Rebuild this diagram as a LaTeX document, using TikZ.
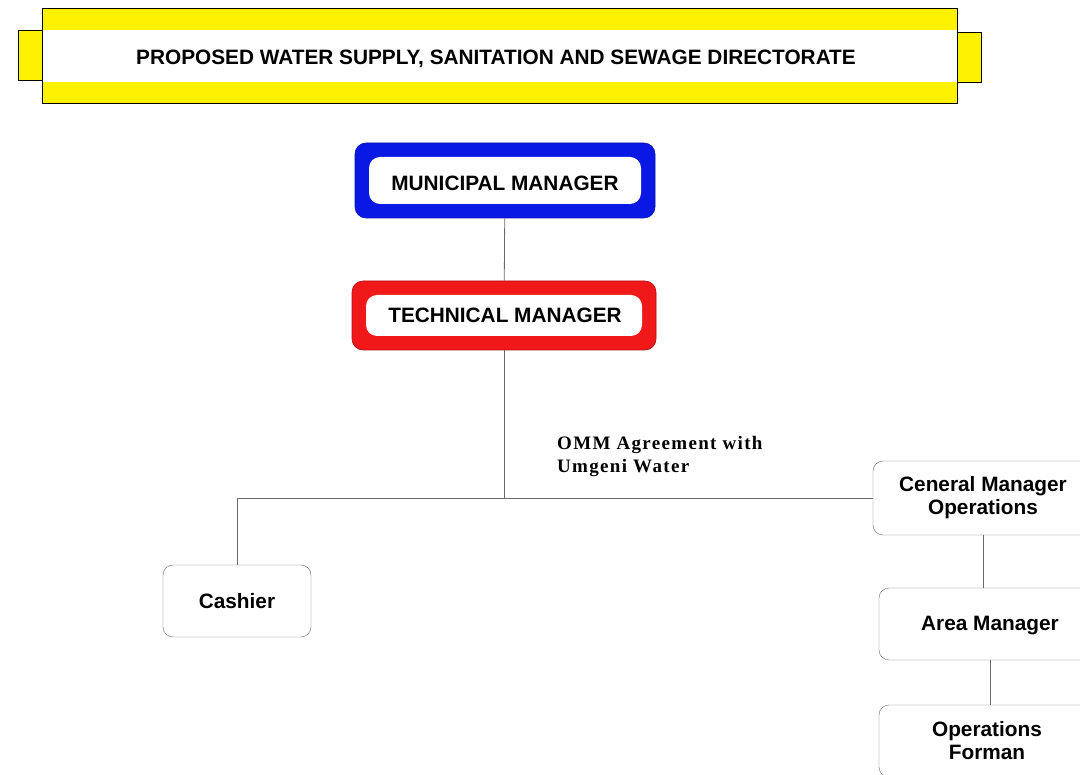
\documentclass[tikz,border=0pt]{standalone}
\usepackage{fontspec}
\setmainfont{Liberation Sans}
\newfontfamily\omfont[LetterSpace=7]{Liberation Serif}
\definecolor{boxline}{HTML}{6A6A6A}
\definecolor{mmblue}{HTML}{0A18E6}
\definecolor{tmred}{HTML}{F01818}
\definecolor{banner}{HTML}{FFF200}
\begin{document}
\begin{tikzpicture}
        [x=1pt, y=-1pt,
        txt/.style={font=\fontsize{20.8}{23}\selectfont\bfseries, align=center},
        unit/.style={txt, draw=boxline, fill=white, rounded corners=10pt, inner sep=0pt},
        head/.style={txt, draw=#1!75!black, line width=0.6pt, fill=#1, rounded corners=11pt,
            inner sep=0pt, path picture={\fill[white] ([shift={(14pt,14pt)}]path picture bounding box.south west)
                rectangle ([shift={(-14pt,-14pt)}]path picture bounding box.north east);}},
        tab/.style={draw=black, line width=0.6pt, fill=banner, minimum width=24pt, minimum height=50pt},
        line/.style={draw=boxline, line width=0.8pt}]
        \useasboundingbox (0,0) rectangle (1080,775);
        \clip (0,0) rectangle (1080,775);
        % banner
        \node[tab] (tabl) at (30,55) {};
        \node[tab] (tabr) at (969,57) {};
        \node[draw=black, line width=0.6pt, fill=banner, minimum width=915pt, minimum height=95pt] (title) at (499.5,55.5) {};
        \node[fill=white, minimum width=914pt, minimum height=52pt, inner sep=0pt] (band) at (499.5,56) {};
        \node[txt] (titletext) at (496,59) {PROPOSED WATER SUPPLY, SANITATION AND SEWAGE DIRECTORATE};
        % managers
        \node[head=mmblue, minimum width=300pt, minimum height=75pt] (mm) at (505,180.5) {};
        \node[txt] (mmtext) at (505,183) {MUNICIPAL MANAGER};
        \node[head=tmred, minimum width=304pt, minimum height=69pt] (tm) at (504,315.5) {};
        \node[txt] (tmtext) at (505,315) {TECHNICAL MANAGER};
        % units
        \node[unit, minimum width=148pt, minimum height=72pt] (cash) at (237,601) {Cashier};
        \node[unit, minimum width=220pt, minimum height=74pt] (gm) at (983,498) {Ceneral Manager\\Operations};
        \node[unit, minimum width=222pt, minimum height=72pt, text depth=2pt] (am) at (990,624) {Area Manager};
        \node[unit, minimum width=216pt, minimum height=72pt] (of) at (987,741) {Operations\\Forman};
        \node[font=\omfont\fontsize{19}{23}\selectfont\bfseries, align=left, anchor=north west,
            inner sep=0pt] (omm) at (557,436) {OMM Agreement with\\Umgeni Water};
        % connectors
        \coordinate (jn) at (tm.south |- gm.west);
        \draw[line] (mm) -- (tm);
        \draw[line] (tm) -- (jn);
        \draw[line] (cash) |- (gm);
        \draw[line] (gm.south) -- (gm.south |- am.north);
        \draw[line] (am.south) -- (am.south |- of.north);
    \end{tikzpicture}
\end{document}
